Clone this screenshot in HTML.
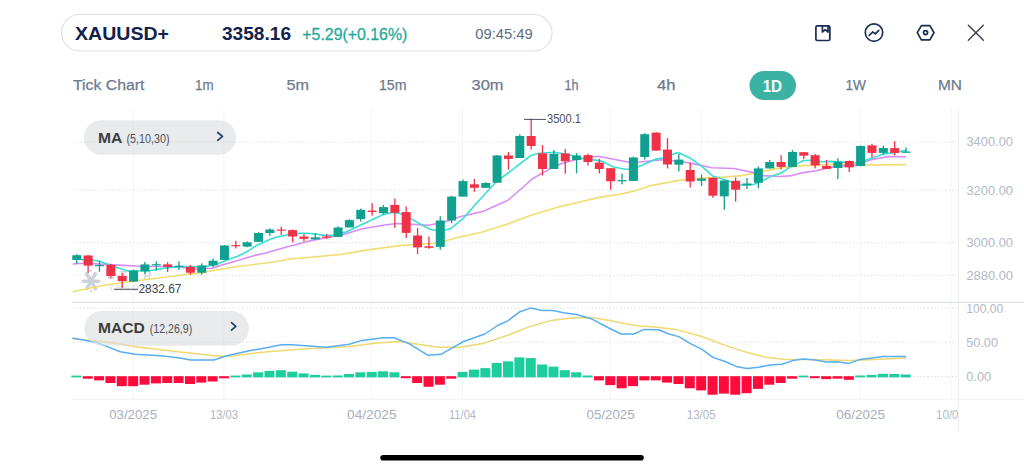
<!DOCTYPE html>
<html><head><meta charset="utf-8">
<style>
html,body{margin:0;padding:0;background:#fff;}
body{width:1024px;height:470px;overflow:hidden;position:relative;font-family:"Liberation Sans",sans-serif;}
svg{position:absolute;left:0;top:0;}
</style></head>
<body>
<svg width="1024" height="470" viewBox="0 0 1024 470" font-family="Liberation Sans, sans-serif">
<!-- top pill -->
<rect x="61.5" y="14.5" width="490.5" height="36.5" rx="18.25" fill="#fff" stroke="#dde1e8" stroke-width="1.2"/>
<text x="75" y="40.4" font-size="18.5" font-weight="bold" fill="#13224a" textLength="94" lengthAdjust="spacingAndGlyphs">XAUUSD+</text>
<text x="222" y="40.2" font-size="18.5" font-weight="bold" fill="#13224a" textLength="69" lengthAdjust="spacingAndGlyphs">3358.16</text>
<text x="302.3" y="40.0" font-size="17" fill="#27a99a" stroke="#27a99a" stroke-width="0.3" textLength="105" lengthAdjust="spacingAndGlyphs">+5.29(+0.16%)</text>
<text x="475.3" y="38.8" font-size="14.5" fill="#5f6b7e" textLength="57.5" lengthAdjust="spacingAndGlyphs">09:45:49</text>
<!-- icons -->
<g fill="none" stroke="#1b2d52" stroke-width="1.7" stroke-linejoin="round" stroke-linecap="round">
<rect x="815.9" y="25.9" width="13.9" height="14.6" rx="1.3"/>
<path d="M822.4 26 V32 L825.2 29.6 L828 32 V26"/>
<circle cx="874" cy="32.6" r="8.7"/>
<path d="M869.2 35.4 L872.6 32 L875.3 33.8 L878.8 30.4"/>
<path d="M921.4 25.6 L929.9 25.6 L934 32.6 L929.9 39.8 L921.4 39.8 L917.3 32.6 Z"/>
<circle cx="925.6" cy="32.6" r="2.0"/>
</g>
<line x1="829.6" y1="27" x2="829.6" y2="40" stroke="#1b2d52" stroke-width="1.2"/>
<g stroke="#383e4b" stroke-width="1.35" stroke-linecap="round">
<line x1="968.3" y1="25.2" x2="983.4" y2="40.3"/><line x1="983.4" y1="25.2" x2="968.3" y2="40.3"/>
</g>
<!-- timeframes -->
<g font-size="15" fill="#6d7a8d" stroke="#6d7a8d" stroke-width="0.25">
<text x="73" y="89.9" textLength="71.5" lengthAdjust="spacingAndGlyphs">Tick Chart</text>
<text x="195" y="89.9" textLength="18.5" lengthAdjust="spacingAndGlyphs">1m</text>
<text x="286.5" y="89.9" textLength="22.5" lengthAdjust="spacingAndGlyphs">5m</text>
<text x="379" y="89.9" textLength="27.5" lengthAdjust="spacingAndGlyphs">15m</text>
<text x="471.5" y="89.9" textLength="32" lengthAdjust="spacingAndGlyphs">30m</text>
<text x="564.5" y="89.9" textLength="14" lengthAdjust="spacingAndGlyphs">1h</text>
<text x="657" y="89.9" textLength="18.5" lengthAdjust="spacingAndGlyphs">4h</text>
<text x="845.5" y="89.9" textLength="20.5" lengthAdjust="spacingAndGlyphs">1W</text>
<text x="938" y="89.9" textLength="24" lengthAdjust="spacingAndGlyphs">MN</text>
</g>
<rect x="749.5" y="71" width="46.5" height="29" rx="14.5" fill="#3bb2a3"/>
<text x="762.7" y="91.6" font-size="17.2" font-weight="bold" fill="#fff" textLength="19.4" lengthAdjust="spacingAndGlyphs">1D</text>
<line x1="133.1" y1="109" x2="133.1" y2="399" stroke="#f3f4f6" stroke-width="1"/>
<line x1="223.9" y1="109" x2="223.9" y2="399" stroke="#f3f4f6" stroke-width="1"/>
<line x1="371.6" y1="109" x2="371.6" y2="399" stroke="#f3f4f6" stroke-width="1"/>
<line x1="462.5" y1="109" x2="462.5" y2="399" stroke="#f3f4f6" stroke-width="1"/>
<line x1="610.2" y1="109" x2="610.2" y2="399" stroke="#f3f4f6" stroke-width="1"/>
<line x1="701.1" y1="109" x2="701.1" y2="399" stroke="#f3f4f6" stroke-width="1"/>
<line x1="860.1" y1="109" x2="860.1" y2="399" stroke="#f3f4f6" stroke-width="1"/>
<line x1="951.0" y1="109" x2="951.0" y2="399" stroke="#f3f4f6" stroke-width="1"/>
<line x1="958.5" y1="109" x2="958.5" y2="430" stroke="#eceef2" stroke-width="1"/>
<line x1="73" y1="142" x2="957" y2="142" stroke="#dcdfe4" stroke-width="1.1" stroke-dasharray="1.5 2.03"/>
<line x1="73" y1="190.3" x2="957" y2="190.3" stroke="#dcdfe4" stroke-width="1.1" stroke-dasharray="1.5 2.03"/>
<line x1="73" y1="242.7" x2="957" y2="242.7" stroke="#dcdfe4" stroke-width="1.1" stroke-dasharray="1.5 2.03"/>
<line x1="73" y1="275.3" x2="957" y2="275.3" stroke="#dcdfe4" stroke-width="1.1" stroke-dasharray="1.5 2.03"/>
<line x1="73" y1="308" x2="957" y2="308" stroke="#dcdfe4" stroke-width="1.1" stroke-dasharray="1.5 2.03"/>
<line x1="73" y1="342.3" x2="957" y2="342.3" stroke="#dcdfe4" stroke-width="1.1" stroke-dasharray="1.5 2.03"/>
<line x1="73" y1="376.6" x2="957" y2="376.6" stroke="#dcdfe4" stroke-width="1.1" stroke-dasharray="1.5 2.03"/>
<line x1="72" y1="302.3" x2="1024" y2="302.3" stroke="#dfe1ea" stroke-width="1.3"/>
<line x1="72" y1="399.2" x2="1024" y2="399.2" stroke="#eef0f3" stroke-width="1"/>
<g transform="translate(91.1,281.3)" stroke="#cdd1d9" stroke-width="3.6" stroke-linecap="round"><line x1="-7.6" y1="0" x2="7.6" y2="0"/><line x1="-4.3" y1="-7.4" x2="4.3" y2="7.4"/><line x1="-4.3" y1="7.4" x2="4.3" y2="-7.4"/></g>
<circle cx="91.1" cy="270.6" r="1.1" fill="#cdd1d9"/><circle cx="91.1" cy="291.2" r="1.1" fill="#cdd1d9"/>
<text x="107" y="279.3" font-size="11.5" font-weight="bold" fill="#d3d7de" letter-spacing="4.7" font-family="Liberation Sans">STAR</text>
<text x="108" y="291.2" font-size="9.5" font-weight="bold" fill="#e6e8ec" letter-spacing="1.5" font-family="Liberation Sans">TRADER</text>
<polyline points="72.6,291.7 105.2,285.0 138.0,280.5 175.0,276.0 189.6,273.9 195.0,273.7 212.0,270.7 237.6,266.5 275.0,261.8 288.6,259.3 340.0,254.5 369.8,249.6 395.1,246.3 400.0,245.6 435.1,243.3 460.0,237.0 483.4,231.8 509.1,223.6 530.2,215.4 560.0,206.6 566.7,205.0 599.4,197.4 620.0,194.3 634.6,190.9 649.3,186.0 663.9,183.1 678.6,180.4 686.4,179.6 696.2,178.7 707.9,177.5 714.7,177.8 741.5,175.6 762.7,171.4 780.5,167.9 803.5,165.6 835.0,164.3 855.1,165.1 906.2,164.6" fill="none" stroke="#f1dd70" stroke-width="1.6" stroke-linejoin="round"/>
<polyline points="72.7,264.0 83.9,263.2 105.2,264.4 140.3,266.2 175.5,266.7 195.0,269.0 212.0,268.2 220.5,265.6 237.6,260.5 254.6,255.4 265.0,253.2 275.0,250.3 290.5,246.1 307.6,241.4 324.6,238.0 345.0,234.1 350.0,232.4 362.4,228.7 384.7,225.0 396.6,223.5 400.0,223.6 428.7,225.2 444.7,222.0 460.0,216.8 483.4,211.3 508.0,200.2 525.5,185.0 531.7,179.3 549.6,168.9 561.5,163.6 577.9,159.2 597.9,156.3 609.8,158.5 629.2,162.3 639.6,162.0 663.5,159.6 675.4,161.0 689.4,162.9 711.7,167.7 734.1,168.5 753.5,172.6 762.7,175.6 780.5,176.5 792.0,175.6 803.5,172.6 816.2,170.7 826.5,168.4 833.8,166.7 855.1,165.1 871.0,159.8 888.1,156.6 906.2,156.8" fill="none" stroke="#d98cf5" stroke-width="1.6" stroke-linejoin="round"/>
<polyline points="81.0,259.6 92.9,260.2 99.2,261.0 114.0,266.7 128.0,271.1 149.1,270.7 168.4,267.6 183.4,266.5 195.0,266.9 205.2,266.5 216.3,264.4 229.0,259.3 237.6,256.3 247.8,251.2 256.3,245.6 265.0,241.8 270.1,239.3 277.8,236.7 288.0,234.7 299.0,233.3 307.6,233.3 316.1,234.1 324.6,235.4 333.1,235.4 345.0,232.4 362.4,224.3 383.2,214.6 392.2,212.4 399.6,213.1 411.5,219.1 429.4,229.0 436.2,230.5 444.7,230.3 451.1,228.4 463.8,217.8 475.5,204.3 482.9,196.3 495.7,182.2 505.3,175.0 531.0,155.5 539.2,153.2 555.0,152.3 569.0,154.7 581.9,158.2 593.6,159.9 601.8,161.1 613.5,167.0 625.2,169.3 629.3,169.3 639.2,166.4 655.0,159.4 663.5,157.8 675.4,153.3 678.2,152.5 689.4,157.7 701.3,165.9 713.2,176.3 728.1,180.8 740.0,185.0 753.5,184.5 762.4,180.8 771.6,176.1 780.5,173.3 790.7,166.9 803.5,160.5 811.1,160.3 821.3,161.8 830.6,161.4 855.1,163.0 865.7,160.3 883.8,153.9 894.5,152.6 906.2,150.2" fill="none" stroke="#3adfd3" stroke-width="1.6" stroke-linejoin="round"/>
<rect x="76.11" y="254.1" width="1.3" height="9.7" fill="#10a08f"/>
<rect x="72.26" y="255.2" width="9.0" height="4.8" fill="#10a08f"/>
<rect x="87.47" y="255.0" width="1.3" height="17.8" fill="#f03249"/>
<rect x="83.62" y="255.5" width="9.0" height="10.1" fill="#f03249"/>
<rect x="98.83" y="261.0" width="1.3" height="10.8" fill="#10a08f"/>
<rect x="94.98" y="265.0" width="9.0" height="1.2" fill="#10a08f"/>
<rect x="110.19" y="263.9" width="1.3" height="14.4" fill="#f03249"/>
<rect x="106.34" y="264.8" width="9.0" height="11.2" fill="#f03249"/>
<rect x="121.55" y="273.0" width="1.3" height="15.3" fill="#f03249"/>
<rect x="117.70" y="275.9" width="9.0" height="5.2" fill="#f03249"/>
<rect x="132.91" y="269.5" width="1.3" height="12.5" fill="#10a08f"/>
<rect x="129.06" y="270.6" width="9.0" height="11.0" fill="#10a08f"/>
<rect x="144.27" y="262.0" width="1.3" height="12.0" fill="#10a08f"/>
<rect x="140.42" y="264.4" width="9.0" height="6.9" fill="#10a08f"/>
<rect x="155.63" y="261.3" width="1.3" height="9.3" fill="#10a08f"/>
<rect x="151.78" y="264.2" width="9.0" height="1.2" fill="#10a08f"/>
<rect x="166.99" y="262.2" width="1.3" height="9.6" fill="#f03249"/>
<rect x="163.14" y="264.4" width="9.0" height="2.5" fill="#f03249"/>
<rect x="178.35" y="261.3" width="1.3" height="8.7" fill="#10a08f"/>
<rect x="174.50" y="265.7" width="9.0" height="1.2" fill="#10a08f"/>
<rect x="189.71" y="265.0" width="1.3" height="9.7" fill="#f03249"/>
<rect x="185.86" y="266.9" width="9.0" height="5.8" fill="#f03249"/>
<rect x="201.07" y="263.4" width="1.3" height="11.3" fill="#10a08f"/>
<rect x="197.22" y="265.4" width="9.0" height="7.3" fill="#10a08f"/>
<rect x="212.43" y="258.3" width="1.3" height="9.0" fill="#10a08f"/>
<rect x="208.58" y="260.7" width="9.0" height="4.7" fill="#10a08f"/>
<rect x="223.79" y="245.0" width="1.3" height="15.0" fill="#10a08f"/>
<rect x="219.94" y="245.5" width="9.0" height="14.4" fill="#10a08f"/>
<rect x="235.15" y="240.8" width="1.3" height="7.6" fill="#f03249"/>
<rect x="231.30" y="245.1" width="9.0" height="1.2" fill="#f03249"/>
<rect x="246.51" y="241.4" width="1.3" height="5.8" fill="#10a08f"/>
<rect x="242.66" y="242.3" width="9.0" height="4.3" fill="#10a08f"/>
<rect x="257.87" y="232.2" width="1.3" height="9.8" fill="#10a08f"/>
<rect x="254.02" y="233.0" width="9.0" height="8.8" fill="#10a08f"/>
<rect x="269.23" y="228.3" width="1.3" height="7.6" fill="#10a08f"/>
<rect x="265.38" y="229.5" width="9.0" height="3.5" fill="#10a08f"/>
<rect x="280.59" y="226.8" width="1.3" height="8.0" fill="#f03249"/>
<rect x="276.74" y="229.5" width="9.0" height="1.2" fill="#f03249"/>
<rect x="291.95" y="229.5" width="1.3" height="12.9" fill="#f03249"/>
<rect x="288.10" y="230.1" width="9.0" height="6.4" fill="#f03249"/>
<rect x="303.31" y="233.8" width="1.3" height="7.7" fill="#f03249"/>
<rect x="299.46" y="236.5" width="9.0" height="2.4" fill="#f03249"/>
<rect x="314.67" y="233.0" width="1.3" height="6.4" fill="#10a08f"/>
<rect x="310.82" y="237.3" width="9.0" height="2.1" fill="#10a08f"/>
<rect x="326.03" y="234.2" width="1.3" height="4.7" fill="#f03249"/>
<rect x="322.18" y="236.5" width="9.0" height="1.2" fill="#f03249"/>
<rect x="337.39" y="226.3" width="1.3" height="10.7" fill="#10a08f"/>
<rect x="333.54" y="227.5" width="9.0" height="9.4" fill="#10a08f"/>
<rect x="348.75" y="219.3" width="1.3" height="8.2" fill="#10a08f"/>
<rect x="344.90" y="220.1" width="9.0" height="7.3" fill="#10a08f"/>
<rect x="360.11" y="208.6" width="1.3" height="13.0" fill="#10a08f"/>
<rect x="356.26" y="209.8" width="9.0" height="9.3" fill="#10a08f"/>
<rect x="371.47" y="203.1" width="1.3" height="12.5" fill="#f03249"/>
<rect x="367.62" y="210.6" width="9.0" height="1.4" fill="#f03249"/>
<rect x="382.83" y="204.9" width="1.3" height="9.7" fill="#10a08f"/>
<rect x="378.98" y="207.1" width="9.0" height="6.0" fill="#10a08f"/>
<rect x="394.19" y="198.6" width="1.3" height="29.4" fill="#f03249"/>
<rect x="390.34" y="204.9" width="9.0" height="7.8" fill="#f03249"/>
<rect x="405.55" y="206.4" width="1.3" height="31.6" fill="#f03249"/>
<rect x="401.70" y="212.1" width="9.0" height="20.8" fill="#f03249"/>
<rect x="416.91" y="228.0" width="1.3" height="26.1" fill="#f03249"/>
<rect x="413.06" y="235.5" width="9.0" height="11.9" fill="#f03249"/>
<rect x="428.27" y="236.5" width="1.3" height="12.4" fill="#f03249"/>
<rect x="424.42" y="246.3" width="9.0" height="1.5" fill="#f03249"/>
<rect x="439.63" y="216.2" width="1.3" height="33.5" fill="#10a08f"/>
<rect x="435.78" y="220.5" width="9.0" height="26.4" fill="#10a08f"/>
<rect x="450.99" y="195.8" width="1.3" height="27.4" fill="#10a08f"/>
<rect x="447.14" y="196.6" width="9.0" height="23.9" fill="#10a08f"/>
<rect x="462.35" y="179.5" width="1.3" height="17.1" fill="#10a08f"/>
<rect x="458.50" y="181.1" width="9.0" height="15.5" fill="#10a08f"/>
<rect x="473.71" y="179.0" width="1.3" height="12.8" fill="#f03249"/>
<rect x="469.86" y="184.3" width="9.0" height="3.5" fill="#f03249"/>
<rect x="485.07" y="182.2" width="1.3" height="5.6" fill="#10a08f"/>
<rect x="481.22" y="183.0" width="9.0" height="4.8" fill="#10a08f"/>
<rect x="496.43" y="155.0" width="1.3" height="28.0" fill="#10a08f"/>
<rect x="492.58" y="155.5" width="9.0" height="27.2" fill="#10a08f"/>
<rect x="507.79" y="152.0" width="1.3" height="17.6" fill="#f03249"/>
<rect x="503.94" y="155.5" width="9.0" height="3.4" fill="#f03249"/>
<rect x="519.15" y="134.3" width="1.3" height="23.7" fill="#10a08f"/>
<rect x="515.30" y="136.0" width="9.0" height="22.0" fill="#10a08f"/>
<rect x="530.51" y="118.6" width="1.3" height="30.9" fill="#f03249"/>
<rect x="526.66" y="136.0" width="9.0" height="10.0" fill="#f03249"/>
<rect x="541.87" y="145.0" width="1.3" height="30.6" fill="#f03249"/>
<rect x="538.02" y="153.4" width="9.0" height="15.6" fill="#f03249"/>
<rect x="553.23" y="150.0" width="1.3" height="19.0" fill="#10a08f"/>
<rect x="549.38" y="153.8" width="9.0" height="15.2" fill="#10a08f"/>
<rect x="564.59" y="149.0" width="1.3" height="24.8" fill="#f03249"/>
<rect x="560.74" y="153.4" width="9.0" height="7.9" fill="#f03249"/>
<rect x="575.95" y="153.2" width="1.3" height="20.1" fill="#10a08f"/>
<rect x="572.10" y="155.5" width="9.0" height="4.5" fill="#10a08f"/>
<rect x="587.31" y="153.6" width="1.3" height="11.9" fill="#f03249"/>
<rect x="583.46" y="155.1" width="9.0" height="6.9" fill="#f03249"/>
<rect x="598.67" y="159.0" width="1.3" height="14.4" fill="#f03249"/>
<rect x="594.82" y="162.6" width="9.0" height="6.4" fill="#f03249"/>
<rect x="610.03" y="168.0" width="1.3" height="21.8" fill="#f03249"/>
<rect x="606.18" y="168.2" width="9.0" height="13.1" fill="#f03249"/>
<rect x="621.39" y="173.4" width="1.3" height="10.9" fill="#10a08f"/>
<rect x="617.54" y="180.1" width="9.0" height="1.2" fill="#10a08f"/>
<rect x="632.75" y="156.6" width="1.3" height="24.3" fill="#10a08f"/>
<rect x="628.90" y="157.5" width="9.0" height="23.4" fill="#10a08f"/>
<rect x="644.11" y="133.2" width="1.3" height="26.4" fill="#10a08f"/>
<rect x="640.26" y="134.2" width="9.0" height="22.8" fill="#10a08f"/>
<rect x="655.47" y="132.0" width="1.3" height="19.0" fill="#f03249"/>
<rect x="651.62" y="132.7" width="9.0" height="17.9" fill="#f03249"/>
<rect x="666.83" y="138.1" width="1.3" height="30.4" fill="#f03249"/>
<rect x="662.98" y="149.6" width="9.0" height="14.9" fill="#f03249"/>
<rect x="678.19" y="153.9" width="1.3" height="17.6" fill="#10a08f"/>
<rect x="674.34" y="159.6" width="9.0" height="5.1" fill="#10a08f"/>
<rect x="689.55" y="162.9" width="1.3" height="24.6" fill="#f03249"/>
<rect x="685.70" y="170.0" width="9.0" height="11.5" fill="#f03249"/>
<rect x="700.91" y="174.5" width="1.3" height="11.5" fill="#10a08f"/>
<rect x="697.06" y="178.5" width="9.0" height="2.3" fill="#10a08f"/>
<rect x="712.27" y="177.5" width="1.3" height="20.4" fill="#f03249"/>
<rect x="708.42" y="177.8" width="9.0" height="17.9" fill="#f03249"/>
<rect x="723.63" y="180.0" width="1.3" height="29.8" fill="#10a08f"/>
<rect x="719.78" y="180.5" width="9.0" height="15.9" fill="#10a08f"/>
<rect x="734.99" y="177.5" width="1.3" height="24.1" fill="#f03249"/>
<rect x="731.14" y="180.8" width="9.0" height="8.9" fill="#f03249"/>
<rect x="746.35" y="178.1" width="1.3" height="10.9" fill="#10a08f"/>
<rect x="742.50" y="183.5" width="9.0" height="2.0" fill="#10a08f"/>
<rect x="757.71" y="166.6" width="1.3" height="21.7" fill="#10a08f"/>
<rect x="753.86" y="168.4" width="9.0" height="14.4" fill="#10a08f"/>
<rect x="769.07" y="159.9" width="1.3" height="8.5" fill="#10a08f"/>
<rect x="765.22" y="162.0" width="9.0" height="6.4" fill="#10a08f"/>
<rect x="780.43" y="155.2" width="1.3" height="14.2" fill="#f03249"/>
<rect x="776.58" y="162.0" width="9.0" height="4.9" fill="#f03249"/>
<rect x="791.79" y="150.0" width="1.3" height="17.0" fill="#10a08f"/>
<rect x="787.94" y="152.0" width="9.0" height="14.9" fill="#10a08f"/>
<rect x="803.15" y="152.0" width="1.3" height="7.0" fill="#f03249"/>
<rect x="799.30" y="152.2" width="9.0" height="3.5" fill="#f03249"/>
<rect x="814.51" y="153.9" width="1.3" height="14.5" fill="#f03249"/>
<rect x="810.66" y="155.2" width="9.0" height="10.2" fill="#f03249"/>
<rect x="825.87" y="159.9" width="1.3" height="9.1" fill="#f03249"/>
<rect x="822.02" y="165.9" width="9.0" height="2.9" fill="#f03249"/>
<rect x="837.23" y="158.2" width="1.3" height="20.8" fill="#10a08f"/>
<rect x="833.38" y="161.7" width="9.0" height="6.3" fill="#10a08f"/>
<rect x="848.59" y="160.5" width="1.3" height="11.5" fill="#f03249"/>
<rect x="844.74" y="161.0" width="9.0" height="6.4" fill="#f03249"/>
<rect x="859.95" y="145.5" width="1.3" height="21.0" fill="#10a08f"/>
<rect x="856.10" y="146.0" width="9.0" height="20.0" fill="#10a08f"/>
<rect x="871.31" y="143.8" width="1.3" height="13.9" fill="#f03249"/>
<rect x="867.46" y="145.4" width="9.0" height="7.5" fill="#f03249"/>
<rect x="882.67" y="145.7" width="1.3" height="9.0" fill="#10a08f"/>
<rect x="878.82" y="148.0" width="9.0" height="4.9" fill="#10a08f"/>
<rect x="894.03" y="141.1" width="1.3" height="14.3" fill="#f03249"/>
<rect x="890.18" y="148.1" width="9.0" height="4.8" fill="#f03249"/>
<rect x="905.39" y="147.5" width="1.3" height="5.3" fill="#10a08f"/>
<rect x="901.54" y="151.5" width="9.0" height="1.3" fill="#10a08f"/>
<line x1="524" y1="119.4" x2="546" y2="119.4" stroke="#4b505b" stroke-width="1"/>
<text x="547" y="123.3" font-size="12" fill="#4b505b" font-family="Liberation Sans" textLength="34" lengthAdjust="spacingAndGlyphs">3500.1</text>
<line x1="114" y1="289.3" x2="138" y2="289.3" stroke="#4b505b" stroke-width="1"/>
<text x="138.5" y="293" font-size="12" fill="#3f4450" font-family="Liberation Sans" textLength="43" lengthAdjust="spacingAndGlyphs">2832.67</text>
<rect x="71.36" y="375.6" width="10" height="1.8" fill="#1ecd9c"/>
<rect x="82.72" y="376.2" width="10" height="2.5" fill="#fe0a3c"/>
<rect x="94.08" y="376.2" width="10" height="4.2" fill="#fe0a3c"/>
<rect x="105.44" y="376.2" width="10" height="6.8" fill="#fe0a3c"/>
<rect x="116.80" y="376.2" width="10" height="10.0" fill="#fe0a3c"/>
<rect x="128.16" y="376.2" width="10" height="10.0" fill="#fe0a3c"/>
<rect x="139.52" y="376.2" width="10" height="8.5" fill="#fe0a3c"/>
<rect x="150.88" y="376.2" width="10" height="7.2" fill="#fe0a3c"/>
<rect x="162.24" y="376.2" width="10" height="6.8" fill="#fe0a3c"/>
<rect x="173.60" y="376.2" width="10" height="6.8" fill="#fe0a3c"/>
<rect x="184.96" y="376.2" width="10" height="7.8" fill="#fe0a3c"/>
<rect x="196.32" y="376.2" width="10" height="6.4" fill="#fe0a3c"/>
<rect x="207.68" y="376.2" width="10" height="5.3" fill="#fe0a3c"/>
<rect x="219.04" y="376.2" width="10" height="2.1" fill="#fe0a3c"/>
<rect x="230.40" y="375.6" width="10" height="1.8" fill="#1ecd9c"/>
<rect x="241.76" y="374.5" width="10" height="2.9" fill="#1ecd9c"/>
<rect x="253.12" y="372.3" width="10" height="5.1" fill="#1ecd9c"/>
<rect x="264.48" y="370.9" width="10" height="6.5" fill="#1ecd9c"/>
<rect x="275.84" y="370.2" width="10" height="7.2" fill="#1ecd9c"/>
<rect x="287.20" y="371.7" width="10" height="5.7" fill="#1ecd9c"/>
<rect x="298.56" y="373.4" width="10" height="4.0" fill="#1ecd9c"/>
<rect x="309.92" y="374.9" width="10" height="2.5" fill="#1ecd9c"/>
<rect x="321.28" y="375.6" width="10" height="1.8" fill="#1ecd9c"/>
<rect x="332.64" y="375.5" width="10" height="1.9" fill="#1ecd9c"/>
<rect x="344.00" y="374.0" width="10" height="3.4" fill="#1ecd9c"/>
<rect x="355.36" y="372.3" width="10" height="5.1" fill="#1ecd9c"/>
<rect x="366.72" y="371.9" width="10" height="5.5" fill="#1ecd9c"/>
<rect x="378.08" y="371.3" width="10" height="6.1" fill="#1ecd9c"/>
<rect x="389.44" y="372.3" width="10" height="5.1" fill="#1ecd9c"/>
<rect x="400.80" y="376.2" width="10" height="2.0" fill="#fe0a3c"/>
<rect x="412.16" y="376.2" width="10" height="6.8" fill="#fe0a3c"/>
<rect x="423.52" y="376.2" width="10" height="10.6" fill="#fe0a3c"/>
<rect x="434.88" y="376.2" width="10" height="8.5" fill="#fe0a3c"/>
<rect x="446.24" y="376.2" width="10" height="2.5" fill="#fe0a3c"/>
<rect x="457.60" y="371.9" width="10" height="5.5" fill="#1ecd9c"/>
<rect x="468.96" y="369.6" width="10" height="7.8" fill="#1ecd9c"/>
<rect x="480.32" y="368.1" width="10" height="9.3" fill="#1ecd9c"/>
<rect x="491.68" y="363.0" width="10" height="14.4" fill="#1ecd9c"/>
<rect x="503.04" y="361.3" width="10" height="16.1" fill="#1ecd9c"/>
<rect x="514.40" y="357.4" width="10" height="20.0" fill="#1ecd9c"/>
<rect x="525.76" y="358.1" width="10" height="19.3" fill="#1ecd9c"/>
<rect x="537.12" y="364.5" width="10" height="12.9" fill="#1ecd9c"/>
<rect x="548.48" y="366.6" width="10" height="10.8" fill="#1ecd9c"/>
<rect x="559.84" y="370.2" width="10" height="7.2" fill="#1ecd9c"/>
<rect x="571.20" y="372.3" width="10" height="5.1" fill="#1ecd9c"/>
<rect x="582.56" y="375.5" width="10" height="1.9" fill="#1ecd9c"/>
<rect x="593.92" y="376.2" width="10" height="4.2" fill="#fe0a3c"/>
<rect x="605.28" y="376.2" width="10" height="8.9" fill="#fe0a3c"/>
<rect x="616.64" y="376.2" width="10" height="12.1" fill="#fe0a3c"/>
<rect x="628.00" y="376.2" width="10" height="10.0" fill="#fe0a3c"/>
<rect x="639.36" y="376.2" width="10" height="4.2" fill="#fe0a3c"/>
<rect x="650.72" y="376.2" width="10" height="4.2" fill="#fe0a3c"/>
<rect x="662.08" y="376.2" width="10" height="6.4" fill="#fe0a3c"/>
<rect x="673.44" y="376.2" width="10" height="7.8" fill="#fe0a3c"/>
<rect x="684.80" y="376.2" width="10" height="12.1" fill="#fe0a3c"/>
<rect x="696.16" y="376.2" width="10" height="14.2" fill="#fe0a3c"/>
<rect x="707.52" y="376.2" width="10" height="18.5" fill="#fe0a3c"/>
<rect x="718.88" y="376.2" width="10" height="17.4" fill="#fe0a3c"/>
<rect x="730.24" y="376.2" width="10" height="18.5" fill="#fe0a3c"/>
<rect x="741.60" y="376.2" width="10" height="17.0" fill="#fe0a3c"/>
<rect x="752.96" y="376.2" width="10" height="12.7" fill="#fe0a3c"/>
<rect x="764.32" y="376.2" width="10" height="8.5" fill="#fe0a3c"/>
<rect x="775.68" y="376.2" width="10" height="6.8" fill="#fe0a3c"/>
<rect x="787.04" y="376.2" width="10" height="2.5" fill="#fe0a3c"/>
<rect x="798.40" y="375.6" width="10" height="1.8" fill="#1ecd9c"/>
<rect x="809.76" y="376.2" width="10" height="2.0" fill="#fe0a3c"/>
<rect x="821.12" y="376.2" width="10" height="2.9" fill="#fe0a3c"/>
<rect x="832.48" y="376.2" width="10" height="2.5" fill="#fe0a3c"/>
<rect x="843.84" y="376.2" width="10" height="3.6" fill="#fe0a3c"/>
<rect x="855.20" y="375.5" width="10" height="1.9" fill="#1ecd9c"/>
<rect x="866.56" y="374.9" width="10" height="2.5" fill="#1ecd9c"/>
<rect x="877.92" y="373.8" width="10" height="3.6" fill="#1ecd9c"/>
<rect x="889.28" y="374.0" width="10" height="3.4" fill="#1ecd9c"/>
<rect x="900.64" y="374.5" width="10" height="2.9" fill="#1ecd9c"/>
<polyline points="72.4,338.7 107.6,342.1 139.5,347.2 171.4,351.0 213.9,355.7 226.7,356.4 265.0,352.1 302.6,348.9 349.4,346.4 377.0,343.0 398.3,341.5 438.7,347.2 460.0,347.2 482.7,343.6 508.2,335.1 529.5,326.6 550.7,320.6 574.1,317.7 591.2,317.4 608.2,320.2 625.2,323.8 640.1,326.0 655.0,327.0 675.5,329.4 701.1,336.2 724.5,345.1 745.7,352.1 767.0,357.4 786.2,359.6 809.6,359.6 830.9,360.0 848.9,360.6 863.8,360.0 885.1,359.1 906.0,357.9" fill="none" stroke="#eed870" stroke-width="1.5" stroke-linejoin="round"/>
<polyline points="72.4,337.9 96.9,342.6 120.3,351.7 135.2,354.3 160.7,355.7 179.9,357.9 190.5,360.0 213.9,360.0 226.7,355.7 248.0,351.0 260.0,348.9 281.3,344.7 291.9,344.7 326.0,347.2 349.4,344.3 362.1,340.4 383.4,337.7 394.0,337.7 409.0,343.6 428.1,355.3 440.9,354.3 455.0,346.4 463.5,341.5 484.8,334.0 497.6,325.5 508.2,320.6 519.9,311.7 530.5,308.1 542.2,310.6 552.9,310.6 563.5,312.8 576.3,314.5 591.2,318.7 603.9,325.5 621.0,334.0 633.7,334.0 644.4,329.4 658.5,329.8 669.1,334.0 678.7,336.6 690.4,343.6 702.1,349.4 712.8,357.4 724.5,361.3 736.2,366.4 746.8,368.5 758.5,367.2 770.2,364.9 781.9,364.3 792.6,360.6 803.2,359.1 814.9,360.0 826.6,362.1 837.2,361.7 848.9,363.4 859.6,359.6 872.3,357.9 883.0,356.4 906.0,356.4" fill="none" stroke="#58aef2" stroke-width="1.5" stroke-linejoin="round"/>
<!-- MA pill -->
<rect x="84" y="120.3" width="152" height="34.5" rx="17.25" fill="#dcdde1" fill-opacity="0.62"/>
<text x="97.9" y="142.9" font-size="14.5" font-weight="bold" fill="#3c3d40" textLength="24.4" lengthAdjust="spacingAndGlyphs">MA</text>
<text x="126.5" y="142.9" font-size="12" fill="#4f5157" textLength="43" lengthAdjust="spacingAndGlyphs">(5,10,30)</text>
<path d="M217.7 132.5 L222.5 136.4 L217.7 140.4" fill="none" stroke="#223d6b" stroke-width="1.7" stroke-linecap="round" stroke-linejoin="round"/>
<!-- MACD pill -->
<rect x="84.5" y="311" width="164.5" height="34.7" rx="17.35" fill="#dcdde1" fill-opacity="0.62"/>
<text x="98" y="333" font-size="14.5" font-weight="bold" fill="#3c3d40" textLength="46.8" lengthAdjust="spacingAndGlyphs">MACD</text>
<text x="149.7" y="333" font-size="12" fill="#4f5157" textLength="42.5" lengthAdjust="spacingAndGlyphs">(12,26,9)</text>
<path d="M231.5 322.7 L235.8 326.4 L231.5 330.2" fill="none" stroke="#223d6b" stroke-width="1.7" stroke-linecap="round" stroke-linejoin="round"/>
<!-- y axis labels -->
<g font-size="12.5" fill="#b3bac6">
<text x="966.4" y="146.4" textLength="46.6" lengthAdjust="spacingAndGlyphs">3400.00</text>
<text x="966.4" y="194.8" textLength="46.6" lengthAdjust="spacingAndGlyphs">3200.00</text>
<text x="966.4" y="247" textLength="46.6" lengthAdjust="spacingAndGlyphs">3000.00</text>
<text x="966.4" y="279.5" textLength="46.6" lengthAdjust="spacingAndGlyphs">2880.00</text>
<text x="966.2" y="313" textLength="37" lengthAdjust="spacingAndGlyphs">100.00</text>
<text x="966.2" y="347.2" textLength="31.8" lengthAdjust="spacingAndGlyphs">50.00</text>
<text x="966.2" y="381.3" textLength="25" lengthAdjust="spacingAndGlyphs">0.00</text>
</g>
<!-- date labels -->
<g font-size="12.5">
<text x="109.2" y="419.2" fill="#a7afbc" textLength="47.8" lengthAdjust="spacingAndGlyphs">03/2025</text>
<text x="210" y="419.2" fill="#b1b8c4" textLength="28" lengthAdjust="spacingAndGlyphs">13/03</text>
<text x="347" y="419.2" fill="#a7afbc" textLength="49.6" lengthAdjust="spacingAndGlyphs">04/2025</text>
<text x="449" y="419.2" fill="#b1b8c4" textLength="27" lengthAdjust="spacingAndGlyphs">11/04</text>
<text x="586.6" y="419.2" fill="#a7afbc" textLength="48" lengthAdjust="spacingAndGlyphs">05/2025</text>
<text x="686.7" y="419.2" fill="#b1b8c4" textLength="29" lengthAdjust="spacingAndGlyphs">13/05</text>
<text x="836.3" y="419.2" fill="#a7afbc" textLength="48.7" lengthAdjust="spacingAndGlyphs">06/2025</text>
</g>
<svg x="0" y="395" width="958" height="40" viewBox="0 395 958 40" overflow="hidden">
<text x="936" y="419.2" font-size="12.5" fill="#b1b8c4" textLength="29" lengthAdjust="spacingAndGlyphs">10/06</text>
</svg>
<!-- home indicator -->
<rect x="380.3" y="455" width="263.5" height="5.6" rx="2.8" fill="#000"/>
</svg>
</body></html>
